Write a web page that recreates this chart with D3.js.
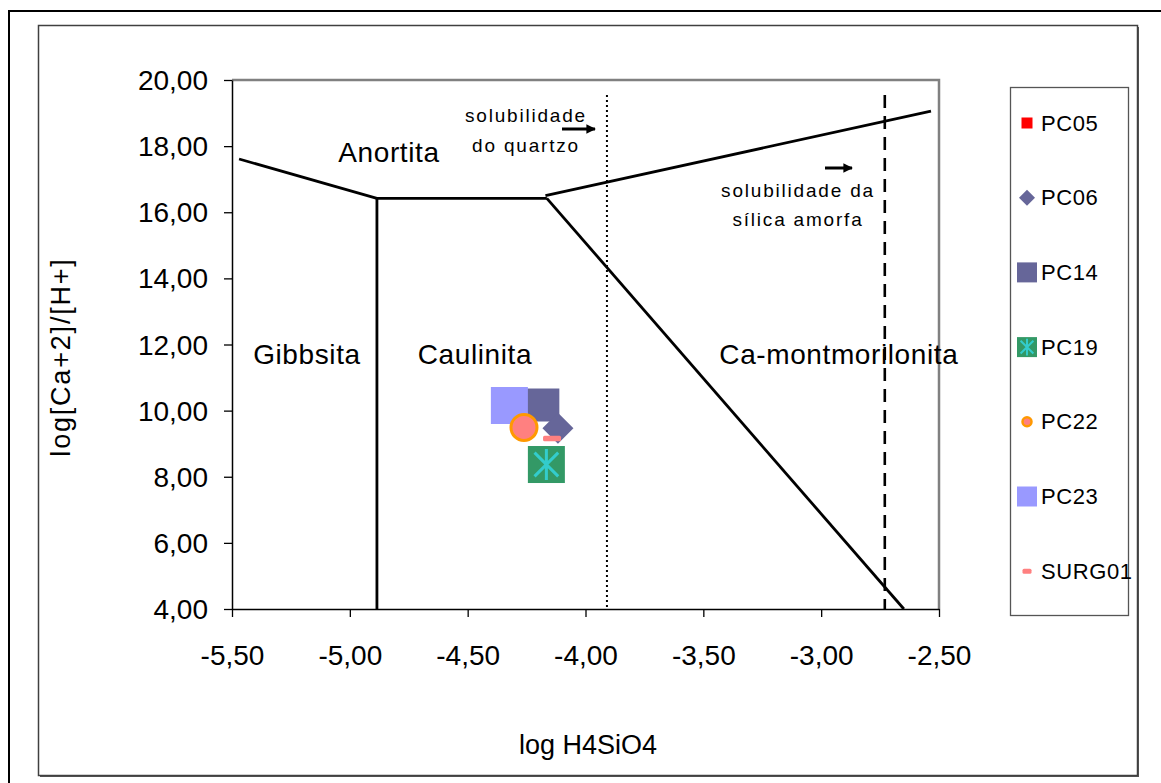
<!DOCTYPE html>
<html>
<head>
<meta charset="utf-8">
<script src="https://cdn.jsdelivr.net/npm/d3@7/dist/d3.min.js"></script>
<style>
  html, body { margin: 0; padding: 0; background: #fff; }
  svg { display: block; font-family: "Liberation Sans", Arial, sans-serif; }
</style>
</head>
<body>
<svg id="chart" width="1161" height="783"></svg>
<script>
// ---------------- DATA ----------------
const xTicks = [-5.5, -5.0, -4.5, -4.0, -3.5, -3.0, -2.5];
const yTicks = [4, 6, 8, 10, 12, 14, 16, 18, 20];

// stability-field boundaries [log H4SiO4, log(Ca2+/H+2)]
const gibbsiteAnorthite   = [[-5.47, 17.61], [-4.885, 16.42]];
const kaoliniteAnorthite  = [[-4.885, 16.42], [-4.164, 16.42]];
const gibbsiteKaolinite   = [[-4.885, 16.42], [-4.885, 4.0]];
const montAnorthite       = [[-4.17, 16.50], [-2.534, 19.06]];
const kaoliniteMont       = [[-4.164, 16.42], [-2.649, 4.0]];
const quartzSolubility    = [[-3.909, 19.55], [-3.909, 4.0]];
const amorphSilica        = [[-2.73, 19.55], [-2.73, 4.0]];

// sample points
const seriesNames = ["PC05", "PC06", "PC14", "PC19", "PC22", "PC23", "SURG01"];
const logSilica   = [-4.19, -4.117, -4.181, -4.166, -4.261, -4.323, -4.142];
const logCaH      = [10.12, 9.47, 10.17, 8.37, 9.49, 10.155, 9.16];

const fieldLabels = ["Anortita", "Gibbsita", "Caulinita", "Ca-montmorilonita"];

// ---------------- LAYOUT ----------------
const svg = d3.select("#chart");
const x = d3.scaleLinear().domain([-5.5, -2.5]).range([232, 939]);
const y = d3.scaleLinear().domain([4, 20]).range([609, 80]);
const loc = d3.formatLocale({decimal: ",", thousands: ".", grouping: [3], currency: ["", ""], minus: "-"});
const fmt = loc.format(".2f");

// outer frame (extends past the picture on right/bottom)
svg.append("rect").attr("x", 9).attr("y", 11).attr("width", 1170).attr("height", 790)
  .attr("fill", "none").attr("stroke", "#000").attr("stroke-width", 2);
// chart area frame with shadow
svg.append("rect").attr("x", 40).attr("y", 27).attr("width", 1099).attr("height", 750)
  .attr("fill", "#555");
svg.append("rect").attr("x", 38.5).attr("y", 25.5).attr("width", 1099).attr("height", 750)
  .attr("fill", "#fff").attr("stroke", "#404040").attr("stroke-width", 1.5);

// plot area border (gray top/right)
svg.append("path")
  .attr("d", `M${x(-5.5)},${y(20)}H${x(-2.5)}V${y(4)}`)
  .attr("fill", "none").attr("stroke", "#808080").attr("stroke-width", 2.5);

// axes
const xAxis = d3.axisBottom(x).tickValues(xTicks).tickFormat(fmt).tickSize(8).tickSizeOuter(0);
const yAxis = d3.axisLeft(y).tickValues(yTicks).tickFormat(fmt).tickSize(8).tickSizeOuter(0);

const gx = svg.append("g").attr("transform", `translate(0,${y(4)})`).call(xAxis);
const gy = svg.append("g").attr("transform", `translate(${x(-5.5)},0)`).call(yAxis);
[gx, gy].forEach(g => {
  g.select(".domain").attr("stroke", "#000").attr("stroke-width", 1.5);
  g.selectAll(".tick line").attr("stroke", "#000").attr("stroke-width", 1.3);
  g.selectAll(".tick text").attr("fill", "#000").attr("font-size", 28)
    .attr("font-family", "Liberation Sans, Arial, sans-serif");
});
gx.selectAll(".tick text").attr("dy", null).attr("y", 46).attr("dominant-baseline", "central");
gy.selectAll(".tick text").attr("dy", null).attr("x", -24).attr("dominant-baseline", "central");

// axis titles
svg.append("text").attr("x", 588).attr("y", 745).attr("text-anchor", "middle")
  .attr("dominant-baseline", "central").attr("font-size", 27).text("log H4SiO4");
svg.append("text").attr("transform", "translate(61,357) rotate(-90)").attr("text-anchor", "middle")
  .attr("dominant-baseline", "central").attr("font-size", 27).attr("letter-spacing", 1.8).text("log[Ca+2]/[H+]");

// boundaries
const line = d3.line().x(d => x(d[0])).y(d => y(d[1]));
[gibbsiteAnorthite, kaoliniteAnorthite, gibbsiteKaolinite, montAnorthite, kaoliniteMont].forEach(pts => {
  svg.append("path").attr("d", line(pts)).attr("fill", "none")
    .attr("stroke", "#000").attr("stroke-width", 2.8);
});
svg.append("path").attr("d", line(quartzSolubility)).attr("fill", "none")
  .attr("stroke", "#000").attr("stroke-width", 2).attr("stroke-dasharray", "2,3");
svg.append("path").attr("d", line(amorphSilica)).attr("fill", "none")
  .attr("stroke", "#000").attr("stroke-width", 2.6).attr("stroke-dasharray", "13,8");

// field labels
const fieldPos = [[-4.834, 17.82], [-5.182, 11.7], [-4.469, 11.7], [-2.925, 11.7]];
fieldLabels.forEach((t, i) => {
  svg.append("text").attr("x", x(fieldPos[i][0])).attr("y", y(fieldPos[i][1]))
    .attr("text-anchor", "middle").attr("dominant-baseline", "central")
    .attr("font-size", 28).attr("letter-spacing", 0.6).text(t);
});

// annotations
const defs = svg.append("defs");
defs.append("marker").attr("id", "arr").attr("viewBox", "0 0 10 10").attr("refX", 9).attr("refY", 5)
  .attr("markerWidth", 3.2).attr("markerHeight", 3.2).attr("markerUnits", "strokeWidth").attr("orient", "auto")
  .append("path").attr("d", "M0,0L10,5L0,10Z").attr("fill", "#000");
function note(lines, cx, cy0, dy) {
  lines.forEach((t, i) => {
    svg.append("text").attr("x", cx).attr("y", cy0 + i * dy).attr("text-anchor", "middle")
      .attr("dominant-baseline", "central").attr("font-size", 19).attr("letter-spacing", 1.8).text(t);
  });
}
note(["solubilidade", "do quartzo"], 526, 115, 30);
note(["solubilidade da", "sílica amorfa"], 798, 190, 29);
svg.append("line").attr("x1", 562).attr("y1", 129).attr("x2", 595).attr("y2", 129)
  .attr("stroke", "#000").attr("stroke-width", 3).attr("marker-end", "url(#arr)");
svg.append("line").attr("x1", 825).attr("y1", 168).attr("x2", 852).attr("y2", 168)
  .attr("stroke", "#000").attr("stroke-width", 3).attr("marker-end", "url(#arr)");

// ---------------- MARKERS ----------------
function drawMarker(g, name, cx, cy, legend) {
  const s = legend ? 20 : 37;
  if (name === "PC05") {
    const a = 11;
    g.append("rect").attr("x", cx - a / 2).attr("y", cy - a / 2).attr("width", a).attr("height", a).attr("fill", "#ff0000");
  } else if (name === "PC06") {
    const r = legend ? 8 : 15.5;
    g.append("path").attr("d", `M${cx},${cy - r}L${cx + r},${cy}L${cx},${cy + r}L${cx - r},${cy}Z`).attr("fill", "#666699");
  } else if (name === "PC14") {
    const a = legend ? 20 : 33;
    g.append("rect").attr("x", cx - a / 2).attr("y", cy - a / 2).attr("width", a).attr("height", a).attr("fill", "#666699");
  } else if (name === "PC19") {
    g.append("rect").attr("x", cx - s / 2).attr("y", cy - s / 2).attr("width", s).attr("height", s).attr("fill", "#339966");
    const h = s * 0.42, d = s * 0.32;
    g.append("path").attr("d", `M${cx},${cy - h}V${cy + h}M${cx - d},${cy - d}L${cx + d},${cy + d}M${cx + d},${cy - d}L${cx - d},${cy + d}`)
      .attr("stroke", "#33cccc").attr("stroke-width", legend ? 2 : 3).attr("fill", "none");
  } else if (name === "PC22") {
    const r = legend ? 4.5 : 13;
    g.append("circle").attr("cx", cx).attr("cy", cy).attr("r", r).attr("fill", "#ff8080")
      .attr("stroke", "#ff9900").attr("stroke-width", legend ? 2.5 : 3);
  } else if (name === "PC23") {
    g.append("rect").attr("x", cx - s / 2).attr("y", cy - s / 2).attr("width", s).attr("height", s).attr("fill", "#9999ff");
  } else if (name === "SURG01") {
    const w = legend ? 9 : 18, hh = legend ? 5 : 5.5;
    g.append("rect").attr("x", cx - w / 2).attr("y", cy - hh / 2).attr("width", w).attr("height", hh)
      .attr("rx", 1.5).attr("fill", "#ff8080");
  }
}

const pts = svg.append("g");
const drawOrder = ["PC05", "PC14", "PC23", "PC06", "PC22", "SURG01", "PC19"];
drawOrder.forEach(n => {
  const i = seriesNames.indexOf(n);
  drawMarker(pts, n, x(logSilica[i]), y(logCaH[i]), false);
});

// ---------------- LEGEND ----------------
svg.append("rect").attr("x", 1010.5).attr("y", 87.5).attr("width", 118).attr("height", 528)
  .attr("fill", "#fff").attr("stroke", "#555").attr("stroke-width", 1.3);
const lg = svg.append("g");
seriesNames.forEach((n, i) => {
  const cy = 123 + i * 74.7;
  drawMarker(lg, n, 1027, cy, true);
  lg.append("text").attr("x", 1041).attr("y", cy).attr("dominant-baseline", "central")
    .attr("font-size", 22).attr("letter-spacing", 0.6).text(n);
});
</script>
</body>
</html>
